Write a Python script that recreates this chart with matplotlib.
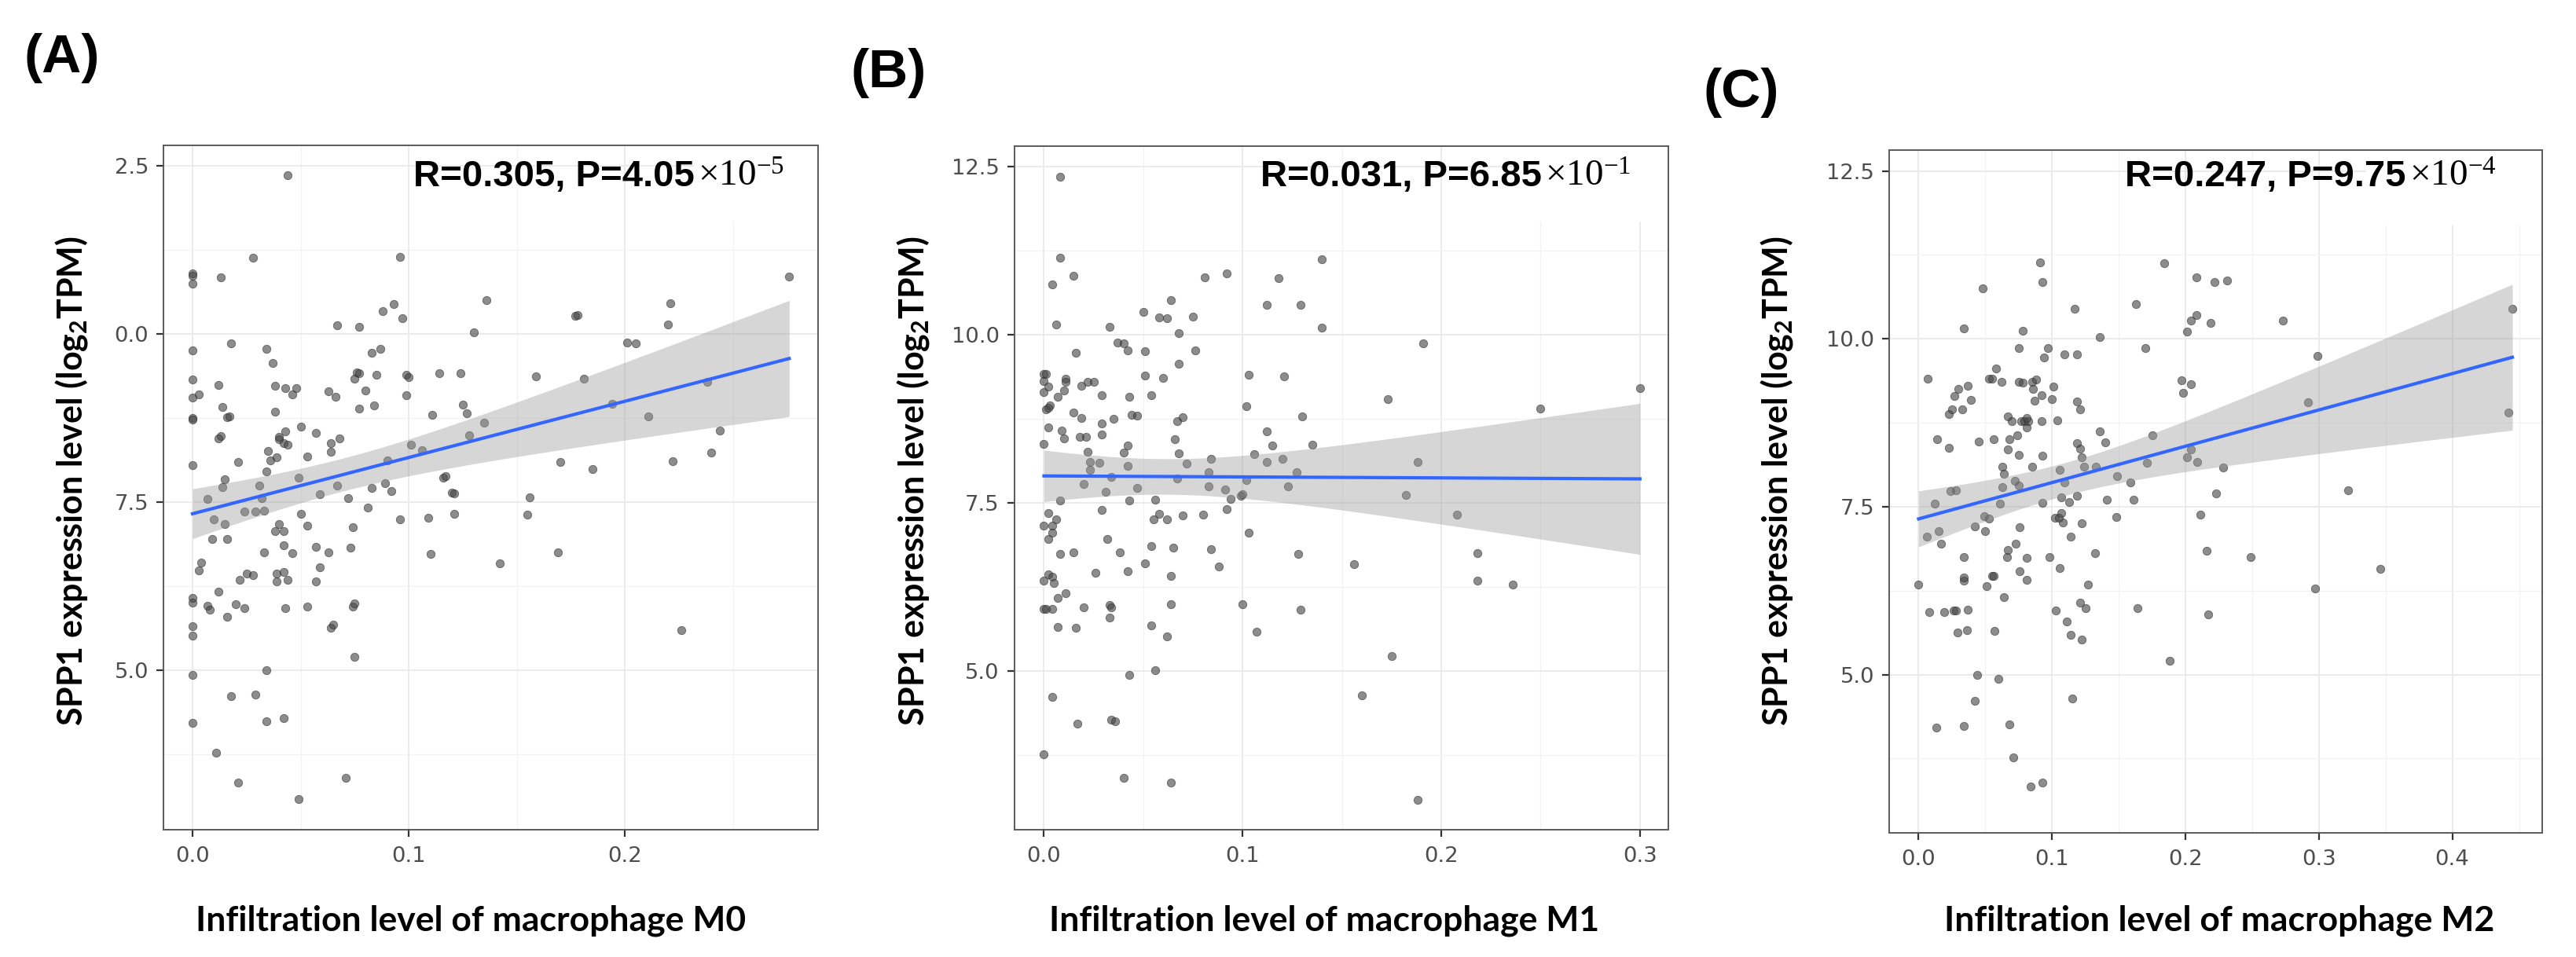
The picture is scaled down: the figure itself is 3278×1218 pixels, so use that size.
import numpy as np
import matplotlib
matplotlib.use('Agg')
import matplotlib.pyplot as plt
from matplotlib.transforms import IdentityTransform

plt.rcParams['mathtext.default'] = 'regular'

# ---- data ----
# (A) macrophage M0
m0_x = [0, 0, 0, 0, 0, 0, 0, 0, 0, 0, 0, 0, 0, 0, 0,
        0.028, 0.013, 0.003, 0.018, 0.012, 0.014, 0.016, 0.017, 0.013, 0.012, 0.021, 0.015, 0.014,
        0.007, 0.010, 0.015, 0.009, 0.016, 0.004, 0.003, 0.012, 0.007, 0.008, 0.016, 0.020, 0.024,
        0.022, 0.025, 0.028, 0.011, 0.018, 0.021, 0.029, 0.034, 0.034, 0.042, 0.049,
        0.034, 0.037, 0.038, 0.038, 0.035, 0.036, 0.034, 0.031, 0.032, 0.029, 0.033, 0.024, 0.033,
        0.040, 0.043, 0.042, 0.044, 0.039, 0.040, 0.043, 0.046, 0.048, 0.050, 0.053, 0.057, 0.049,
        0.050, 0.040, 0.038, 0.042, 0.042, 0.046, 0.039, 0.042, 0.039, 0.044, 0.043,
        0.053, 0.057, 0.059, 0.057, 0.053, 0.059, 0.063, 0.064, 0.064, 0.068, 0.063, 0.066, 0.067,
        0.077, 0.067, 0.072, 0.074, 0.073, 0.074, 0.075, 0.064, 0.065, 0.075, 0.071,
        0.076, 0.075, 0.077, 0.080, 0.077, 0.084, 0.085, 0.083, 0.087, 0.088, 0.093, 0.097, 0.096,
        0.099, 0.099, 0.100, 0.101, 0.106, 0.090, 0.089, 0.083, 0.092, 0.081, 0.096,
        0.111, 0.114, 0.124, 0.125, 0.127, 0.128, 0.130, 0.136, 0.135, 0.116, 0.117, 0.120, 0.121,
        0.109, 0.121, 0.110, 0.142, 0.156, 0.155, 0.159, 0.170, 0.169, 0.177, 0.178, 0.181, 0.185,
        0.194, 0.201, 0.205, 0.211, 0.220, 0.221, 0.222, 0.226, 0.238, 0.240, 0.244, 0.276, 0.044]
m0_y = [10.89, 10.86, 10.74, 9.75, 9.32, 9.05, 8.75, 8.72, 8.04, 6.07, 6.00, 5.65, 5.51, 4.93, 4.21,
        11.13, 10.84, 9.10, 9.86, 9.24, 8.91, 8.76, 8.77, 8.48, 8.44, 8.09, 7.83, 7.72,
        7.54, 7.24, 7.17, 6.95, 6.95, 6.60, 6.48, 6.16, 5.95, 5.90, 5.79, 5.98, 5.92,
        6.34, 6.43, 6.41, 3.77, 4.61, 3.33, 4.63, 5.00, 4.24, 4.28, 3.08,
        9.77, 9.56, 9.23, 8.84, 8.26, 8.11, 7.95, 7.74, 7.55, 7.35, 7.37, 7.35, 6.75,
        8.43, 8.55, 8.37, 8.35, 8.16, 8.46, 9.19, 9.10, 9.19, 8.62, 8.17, 8.52, 7.86,
        7.32, 7.17, 7.06, 7.06, 6.85, 6.74, 6.43, 6.46, 6.31, 6.34, 5.92,
        7.14, 6.83, 6.53, 6.32, 5.94, 7.61, 6.75, 8.24, 8.37, 8.44, 9.14, 9.06, 10.12,
        10.10, 7.74, 7.55, 7.12, 6.82, 5.94, 5.99, 5.63, 5.67, 5.20, 3.39,
        9.42, 9.33, 9.41, 9.15, 8.88, 8.93, 9.39, 9.72, 9.77, 10.33, 10.44, 10.23, 11.14,
        9.08, 9.39, 9.35, 8.35, 8.27, 8.11, 7.78, 7.70, 7.66, 7.41, 7.24,
        8.79, 9.41, 9.41, 8.94, 8.82, 8.49, 10.02, 10.50, 8.67, 7.86, 7.88, 7.63, 7.62,
        7.26, 7.32, 6.73, 6.59, 7.56, 7.31, 9.36, 8.09, 6.75, 10.26, 10.28, 9.33, 7.99,
        8.95, 9.87, 9.86, 8.77, 10.14, 10.45, 8.10, 5.59, 9.28, 8.23, 8.56, 10.85, 12.35]

# (B) macrophage M1
m1_x = [0.000, 0.001, 0.000, 0.000, 0.001, 0.000, 0.000, 0.000, 0.000, 0.001, 0.000,
        0.008, 0.008, 0.004, 0.006, 0.015, 0.016, 0.002, 0.003, 0.002, 0.002, 0.007, 0.009,
        0.010, 0.010, 0.011, 0.011, 0.015, 0.019, 0.022, 0.019, 0.018, 0.021, 0.022, 0.023,
        0.023, 0.020, 0.025, 0.029, 0.029, 0.029, 0.028, 0.031, 0.034, 0.035, 0.029,
        0.002, 0.004, 0.004, 0.006, 0.008, 0.002, 0.008, 0.002, 0.004, 0.005, 0.004, 0.007,
        0.011, 0.007, 0.016, 0.015, 0.020, 0.026, 0.032, 0.033, 0.034, 0.033, 0.004, 0.017,
        0.034, 0.036, 0.040,
        0.033, 0.037, 0.040, 0.042, 0.043, 0.044, 0.047, 0.040, 0.042, 0.042, 0.047, 0.043,
        0.038, 0.042, 0.043,
        0.050, 0.051, 0.051, 0.054, 0.060, 0.058, 0.062, 0.064, 0.068, 0.068, 0.075, 0.076,
        0.066, 0.067, 0.070, 0.068, 0.072, 0.067, 0.056, 0.058, 0.055, 0.062, 0.070, 0.080,
        0.051, 0.054, 0.065, 0.064, 0.064, 0.054, 0.062, 0.056, 0.064,
        0.081, 0.092, 0.083, 0.083, 0.084, 0.084, 0.088, 0.091, 0.092, 0.094, 0.099, 0.100,
        0.102, 0.102, 0.103, 0.106, 0.103, 0.100, 0.107,
        0.112, 0.112, 0.115, 0.112, 0.118, 0.121, 0.120, 0.123, 0.127, 0.130, 0.135, 0.129,
        0.140, 0.140, 0.128, 0.129, 0.156, 0.160, 0.173, 0.175, 0.182, 0.188, 0.191, 0.188,
        0.208, 0.218, 0.218, 0.236, 0.250, 0.300]
m1_y = [9.42, 9.41, 9.31, 9.15, 8.89, 8.38, 7.16, 6.34, 5.92, 5.92, 3.77,
        12.34, 11.14, 10.74, 10.15, 10.87, 9.73, 9.23, 8.95, 8.91, 8.62, 9.08, 8.57,
        8.46, 9.17, 9.35, 9.30, 8.84, 9.24, 9.30, 8.76, 8.48, 8.48, 8.26, 8.11,
        7.99, 7.78, 9.30, 9.10, 8.68, 8.52, 8.10, 7.66, 7.89, 8.75, 7.39,
        7.35, 7.16, 7.06, 7.26, 7.54, 6.96, 6.74, 6.44, 6.40, 6.31, 5.93, 6.09,
        6.16, 5.66, 5.64, 6.76, 5.95, 6.46, 6.96, 5.98, 5.95, 5.80, 4.62, 4.22,
        4.28, 4.25, 3.41,
        10.12, 9.88, 9.87, 9.77, 9.07, 8.81, 8.80, 8.25, 8.35, 8.05, 7.72, 7.54,
        6.76, 6.48, 4.94,
        10.34, 9.75, 9.39, 9.10, 9.36, 10.25, 10.24, 10.51, 10.02, 9.57, 10.27, 9.77,
        8.44, 8.71, 8.77, 8.24, 8.08, 7.86, 7.55, 7.34, 7.26, 7.25, 7.31, 7.32,
        6.60, 6.86, 6.83, 6.41, 6.00, 5.68, 5.52, 5.01, 3.34,
        10.85, 10.91, 7.96, 7.74, 8.15, 6.81, 6.55, 7.70, 7.41, 7.56, 7.61, 7.63,
        7.84, 8.93, 9.40, 8.22, 7.06, 6.00, 5.58,
        8.11, 8.56, 8.35, 10.44, 10.84, 9.38, 8.15, 7.75, 7.96, 8.78, 8.36, 10.44,
        11.12, 10.10, 6.74, 5.91, 6.59, 4.64, 9.04, 5.22, 7.62, 8.11, 9.87, 3.09,
        7.33, 6.75, 6.35, 6.29, 8.90, 9.20]

# (C) macrophage M2
m2_x = [0.000, 0.006, 0.008, 0.007, 0.012, 0.013, 0.014, 0.015, 0.017, 0.019, 0.023, 0.023,
        0.025, 0.024, 0.028, 0.026, 0.028, 0.027, 0.030, 0.029, 0.033, 0.034, 0.034, 0.034,
        0.034, 0.034, 0.036, 0.037, 0.037, 0.039,
        0.042, 0.042, 0.044, 0.045, 0.048, 0.049, 0.050, 0.051, 0.053, 0.055, 0.053, 0.055,
        0.056, 0.057, 0.058, 0.060, 0.056, 0.061, 0.062, 0.063, 0.063, 0.064, 0.064, 0.066,
        0.067, 0.067, 0.068, 0.068, 0.067, 0.070,
        0.071, 0.072, 0.073, 0.074, 0.075, 0.075, 0.078, 0.075, 0.075, 0.076, 0.076, 0.078,
        0.077, 0.079, 0.081, 0.082, 0.081, 0.081, 0.081, 0.084, 0.085, 0.085, 0.086, 0.087, 0.088,
        0.091, 0.092, 0.092, 0.093, 0.093, 0.093, 0.093, 0.094, 0.097, 0.098, 0.100, 0.101,
        0.102, 0.103, 0.104, 0.105, 0.106, 0.106, 0.107, 0.107, 0.108, 0.109, 0.109, 0.111,
        0.113, 0.114, 0.114, 0.115,
        0.117, 0.119, 0.119, 0.119, 0.119, 0.121, 0.121, 0.122, 0.122, 0.121, 0.124, 0.125,
        0.122, 0.127, 0.132, 0.133, 0.136, 0.136, 0.140, 0.141, 0.148, 0.149, 0.159, 0.161,
        0.163, 0.164, 0.170, 0.171, 0.175, 0.188, 0.184,
        0.197, 0.198, 0.201, 0.201, 0.204, 0.204, 0.204, 0.208, 0.208, 0.209, 0.211, 0.216,
        0.217, 0.219, 0.222, 0.223, 0.228, 0.231, 0.249, 0.273, 0.292, 0.297, 0.299, 0.322,
        0.346, 0.442, 0.445]
m2_y = [6.34, 7.05, 5.93, 9.41, 7.54, 4.21, 8.51, 7.14, 6.95, 5.93, 8.38, 8.88,
        8.95, 7.73, 7.75, 5.95, 5.95, 9.15, 9.25, 5.63, 8.95, 10.15, 6.75, 6.40,
        6.45, 4.24, 5.66, 5.97, 9.30, 9.09,
        7.21, 4.61, 5.00, 8.47, 10.75, 7.36, 7.14, 6.32, 9.41, 9.41, 7.32, 6.47,
        6.47, 5.65, 9.56, 4.94, 8.51, 7.55, 9.36, 7.79, 8.09, 7.99, 6.15, 6.75,
        8.84, 6.85, 4.26, 8.50, 8.35, 8.77,
        3.77, 7.89, 6.95, 8.56, 9.86, 9.36, 9.35, 7.82, 8.27, 6.54, 7.20, 10.12,
        8.78, 8.78, 8.68, 8.77, 8.82, 6.41, 6.74, 3.33, 9.36, 8.10, 9.25, 9.08, 9.40,
        11.14, 9.16, 8.77, 8.26, 7.56, 3.39, 10.85, 9.72, 9.86, 6.75, 9.10, 9.29,
        7.34, 5.95, 8.79, 7.34, 8.05, 6.59, 7.64, 7.40, 7.26, 9.77, 7.86, 5.79,
        7.57, 5.59, 7.05, 4.64,
        10.45, 9.77, 9.07, 8.45, 7.66, 8.95, 8.36, 8.24, 7.25, 6.07, 8.10, 5.99,
        5.52, 6.34, 6.81, 8.09, 8.62, 10.03, 8.46, 7.61, 7.35, 7.95, 7.86, 7.60,
        10.52, 5.99, 9.86, 8.15, 8.56, 5.21, 11.13,
        9.38, 9.20, 10.11, 8.24, 10.27, 9.33, 8.35, 10.35, 10.91, 8.17, 7.38, 6.84,
        5.90, 10.24, 10.85, 7.70, 8.08, 10.87, 6.75, 10.27, 9.05, 6.28, 9.75, 7.75,
        6.58, 8.90, 10.45]

y_ticks = [12.5, 10.0, 7.5, 5.0]
y_labels_a = ['2.5', '0.0', '7.5', '5.0']   # as printed in panel A
y_labels_bc = ['12.5', '10.0', '7.5', '5.0']
stats_main = ['R=0.305, P=4.05', 'R=0.031, P=6.85', 'R=0.247, P=9.75']
stats_exp = [r'$\times10^{-5}$', r'$\times10^{-1}$', r'$\times10^{-4}$']
x_titles = ['Infiltration level of macrophage M0',
            'Infiltration level of macrophage M1',
            'Infiltration level of macrophage M2']
panel_tags = ['(A)', '(B)', '(C)']

W, H = 3278, 1218
T95 = 1.974  # t quantile, df ~ 170
LABEL_FONT = ['Lato', 'Open Sans', 'DejaVu Sans']


def fpos(px, py):
    """pixel position (from top-left) -> figure fraction"""
    return px / W, 1 - py / H


def draw_panel(fig, rect, x, y, xlim, ylim, xticks, ylabels, box_x0):
    ax = fig.add_axes(rect)
    x = np.asarray(x, dtype=float)
    y = np.asarray(y, dtype=float)

    ax.scatter(x, y, s=56, facecolor='#454545', edgecolor='#2a2a2a',
               linewidths=0.6, alpha=0.62, zorder=3)

    # linear fit with 95% confidence band (geom_smooth(method='lm'))
    slope, icpt = np.polyfit(x, y, 1)
    xs = np.linspace(x.min(), x.max(), 120)
    fit = icpt + slope * xs
    n = len(x)
    resid = y - (icpt + slope * x)
    s = np.sqrt(np.sum(resid ** 2) / (n - 2))
    se = s * np.sqrt(1 / n + (xs - x.mean()) ** 2 / np.sum((x - x.mean()) ** 2))
    ax.fill_between(xs, fit - T95 * se, fit + T95 * se, color='#999999',
                    alpha=0.4, lw=0, zorder=4)
    ax.plot(xs, fit, color='#3366FF', lw=3.0, zorder=5)

    ax.set_xlim(*xlim)
    ax.set_ylim(*ylim)
    ax.set_xticks(xticks)
    ax.set_xticklabels(['%.1f' % v for v in xticks])
    ax.set_yticks(y_ticks)
    ax.set_yticklabels(ylabels)
    xminor = np.arange(0.05, xlim[1], 0.1)
    ax.set_xticks(xminor, minor=True)
    ax.set_yticks([3.75, 6.25, 8.75, 11.25], minor=True)

    ax.set_axisbelow(True)
    ax.grid(which='major', color='#EBEBEB', lw=1.4)
    ax.grid(which='minor', color='#F2F2F2', lw=0.9)
    ax.tick_params(which='minor', length=0)
    ax.tick_params(which='major', length=6.5, width=1.6, color='#333333',
                   labelsize=19.7, labelcolor='#4D4D4D')
    ax.tick_params(axis='x', pad=8.5)
    ax.tick_params(axis='y', pad=7)
    for sp in ax.spines.values():
        sp.set_color('#5a5a5a')
        sp.set_linewidth(1.4)

    # white patch behind the pasted exponent
    ax.add_patch(plt.Rectangle((box_x0, 0.89), 1 - box_x0, 0.11, transform=ax.transAxes,
                               facecolor='white', edgecolor='none', zorder=0.8))
    return ax


fig = plt.figure(figsize=(W / 100, H / 100), dpi=100)

axes_rects = [(0.0634, 0.1327, 0.2543, 0.7155),
              (0.3937, 0.1327, 0.2541, 0.7143),
              (0.7334, 0.1295, 0.2535, 0.7136)]
xs_all = [m0_x, m1_x, m2_x]
ys_all = [m0_y, m1_y, m2_y]
xlims = [(-0.0135, 0.2895), (-0.015, 0.3145), (-0.022, 0.4674)]
ylims = [(2.62, 12.80), (2.64, 12.795), (2.64, 12.81)]
xticks_all = [[0.0, 0.1, 0.2], [0.0, 0.1, 0.2, 0.3], [0.0, 0.1, 0.2, 0.3, 0.4]]
ylabels_all = [y_labels_a, y_labels_bc, y_labels_bc]
box_x0s = [0.81, 0.77, 0.73]

tag_pos = [(79, 74), (1131, 93), (2216, 118)]
ylab_pos = [(91, 612), (1162, 612), (2261, 612)]
xlab_pos = [(599, 1185), (1685, 1185), (2824, 1185)]
stat_pos = [(526, 237), (1604, 237), (2704, 237)]

stat_texts = []
for i in range(3):
    draw_panel(fig, axes_rects[i], xs_all[i], ys_all[i], xlims[i], ylims[i],
               xticks_all[i], ylabels_all[i], box_x0s[i])

    fig.text(*fpos(*tag_pos[i]), panel_tags[i], fontsize=50, fontweight='bold',
             family='Liberation Sans', ha='center', va='center')
    fig.text(*fpos(*ylab_pos[i]), 'SPP1 expression level (log$_2$TPM)', rotation=90,
             fontsize=31, fontweight='bold', family=LABEL_FONT, ha='center', va='center')
    fig.text(*fpos(*xlab_pos[i]), x_titles[i], fontsize=32, fontweight='bold',
             family=LABEL_FONT, ha='center', va='baseline')
    t = fig.text(*fpos(*stat_pos[i]), stats_main[i], fontsize=34, fontweight='bold',
                 family='Liberation Sans', ha='left', va='baseline', zorder=10)
    stat_texts.append(t)

# exponent part set in a serif face, right after the bold part
fig.canvas.draw()
renderer = fig.canvas.get_renderer()
for i, t in enumerate(stat_texts):
    bb = t.get_window_extent(renderer)
    base_y = H - stat_pos[i][1]
    fig.text(bb.x1 + 4, base_y, stats_exp[i], transform=IdentityTransform(),
             fontsize=34, family='Liberation Serif', math_fontfamily='stix',
             ha='left', va='baseline', zorder=10)

fig.savefig('out.png', dpi=100, facecolor='white')
